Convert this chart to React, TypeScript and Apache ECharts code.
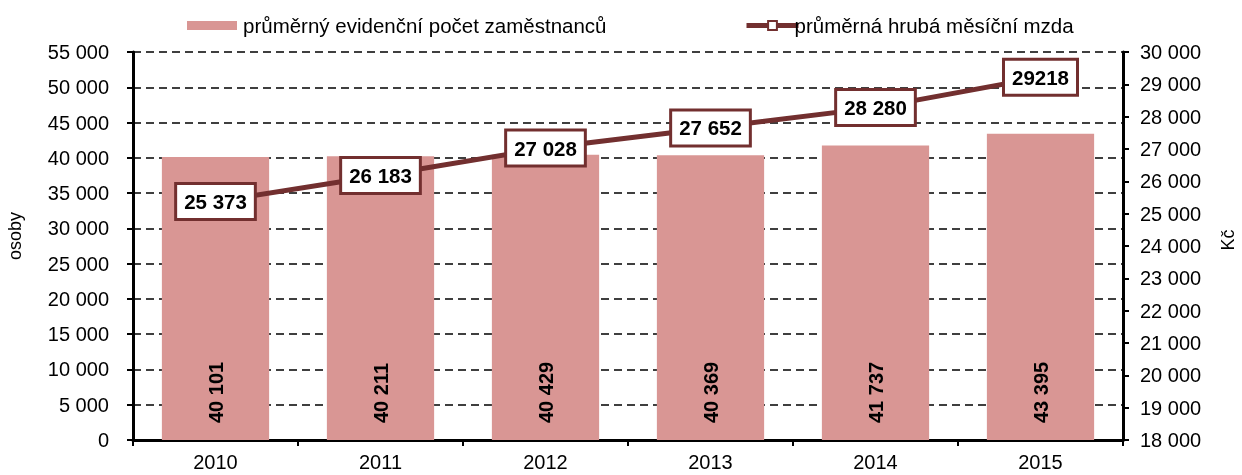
import React, { useEffect, useRef } from "react";
import * as echarts from "echarts";

const years = ["2010", "2011", "2012", "2013", "2014", "2015"];
const employees = [40101, 40211, 40429, 40369, 41737, 43395];
const wages = [25373, 26183, 27028, 27652, 28280, 29218];
const wageLabels = ["25 373", "26 183", "27 028", "27 652", "28 280", "29218"];

const fmt = (v: number) => String(v).replace(/\B(?=(\d{3})+(?!\d))/g, " ");

export default function App() {
  const ref = useRef<HTMLDivElement>(null);
  useEffect(() => {
    const chart = echarts.init(ref.current!, null, { renderer: "svg" });
    const font = "Liberation Sans, Arial, sans-serif";
    const dark = "#722f2f";
    chart.setOption({
      animation: false,
      textStyle: { fontFamily: font },
      legend: [
        {
          top: 10,
          left: 182,
          itemWidth: 50,
          itemHeight: 9,
          itemGap: 6,
          textStyle: { fontSize: 20.5, color: "#000", fontFamily: font, padding: [0, 0, 0, 1] },
          data: [{ name: "průměrný evidenční počet zaměstnanců", icon: "rect" }],
        },
        {
          top: 10,
          left: 739,
          itemWidth: 52,
          itemHeight: 11,
          itemGap: 6,
          textStyle: { fontSize: 20.5, color: "#000", fontFamily: font, padding: [0, 0, 0, -9] },
          data: [
            {
              name: "průměrná hrubá měsíční mzda",
              lineStyle: { width: 5, color: dark },
            },
          ],
        },
      ],
      grid: {
        left: 133,
        right: 119,
        top: 52,
        bottom: 35,
        containLabel: false,
        outerBoundsMode: "none",
      },
      xAxis: {
        type: "category",
        data: years,
        axisLine: { lineStyle: { color: "#000", width: 3 } },
        axisTick: { show: true, length: 6, lineStyle: { color: "#000", width: 2 } },
        axisLabel: { fontSize: 20, color: "#000", margin: 12 },
      },
      yAxis: [
        {
          type: "value",
          min: 0,
          max: 55000,
          interval: 5000,
          name: "osoby",
          nameLocation: "middle",
          nameGap: 109,
          nameRotate: 90,
          nameTextStyle: { fontSize: 18, color: "#000", padding: [0, 0, 0, 20] },
          axisLine: { show: true, lineStyle: { color: "#000", width: 3 } },
          axisTick: { show: true, length: 6, lineStyle: { color: "#000", width: 2 } },
          axisLabel: { fontSize: 20, color: "#000", formatter: (v: number) => fmt(v), margin: 24 },
          splitLine: { show: true, lineStyle: { color: "#000", type: [8, 5], width: 1.5 } },
        },
        {
          type: "value",
          min: 18000,
          max: 30000,
          interval: 1000,
          name: "Kč",
          nameLocation: "middle",
          nameGap: 96,
          nameRotate: 90,
          nameTextStyle: { fontSize: 18, color: "#000", padding: [0, 0, 0, 12] },
          axisLine: { show: true, lineStyle: { color: "#000", width: 3 } },
          axisTick: { show: true, length: 6, lineStyle: { color: "#000", width: 2 } },
          axisLabel: { fontSize: 20, color: "#000", formatter: (v: number) => fmt(v), margin: 17 },
          splitLine: { show: false },
        },
      ],
      series: [
        {
          name: "průměrný evidenční počet zaměstnanců",
          type: "bar",
          data: employees,
          barCategoryGap: "35%",
          itemStyle: { color: "#d99694" },
          label: {
            show: true,
            position: "insideBottom",
            rotate: 90,
            align: "left",
            verticalAlign: "middle",
            distance: 17,
            fontSize: 20,
            fontWeight: "bold",
            color: "#000",
            formatter: (p: any) => fmt(p.value),
          },
        },
        {
          name: "průměrná hrubá měsíční mzda",
          type: "line",
          yAxisIndex: 1,
          data: wages,
          symbol: "rect",
          symbolSize: 10,
          itemStyle: { color: "#fff", borderColor: dark, borderWidth: 2 },
          lineStyle: { color: dark, width: 5 },
          label: {
            show: true,
            position: "inside",
            fontSize: 20.5,
            fontWeight: "bold",
            color: "#000",
            backgroundColor: "#fff",
            borderColor: dark,
            borderWidth: 3,
            padding: [7, 7, 5, 7],
            formatter: (p: any) => wageLabels[p.dataIndex],
          },
        },
      ],
    });
    return () => chart.dispose();
  }, []);
  return (
    <div
      ref={ref}
      style={{ width: 1242, height: 475, position: "fixed", left: 0, top: 0 }}
    />
  );
}
